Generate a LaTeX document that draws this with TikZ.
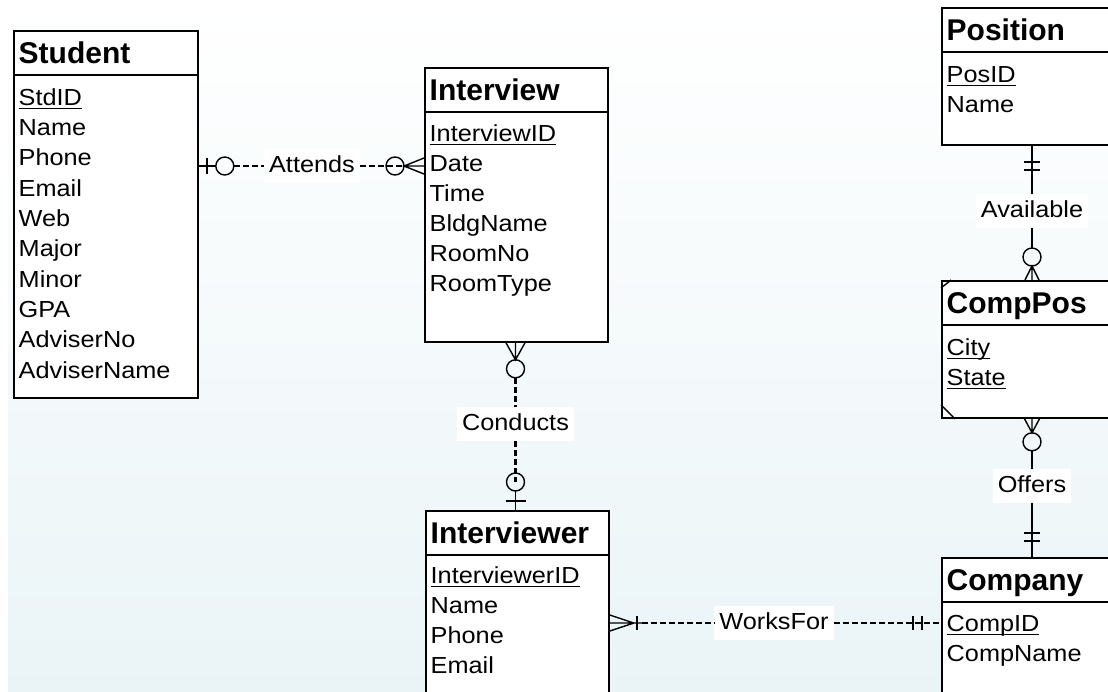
\documentclass[tikz,border=0pt]{standalone}
\usepackage{fontspec}
\setmainfont{Liberation Sans}
\newfontfamily\attrfont[FakeStretch=1.09]{Liberation Sans}
\usetikzlibrary{calc}
\definecolor{bgbottom}{RGB}{234,244,247}
% underlined key attribute
\newcommand{\keyname}[1]{\setbox0\hbox{#1}\rlap{\vrule height -2.6pt depth 4.1pt width \wd0}\box0}
\begin{document}
\begin{tikzpicture}[x=1pt,y=-1pt,
  entity/.style={draw=black, line width=1.8pt, fill=white, rectangle, inner sep=0pt, anchor=north west},
  title/.style={anchor=base west, inner sep=0pt, font=\fontsize{30}{36}\selectfont\bfseries},
  attr/.style={anchor=base west, inner sep=0pt, font=\attrfont\fontsize{23.2}{29}\selectfont},
  rel/.style={fill=white, inner xsep=5pt, inner ysep=6pt, text height=17pt, text depth=5pt, font=\attrfont\fontsize{23.2}{29}\selectfont},
  link/.style={line width=2.2pt, dash pattern=on 6pt off 3pt},
  solidlink/.style={line width=1.3pt},
  symbol/.style={line width=1.4pt},
  divider/.style={line width=1.4pt}]

\useasboundingbox (0,0) rectangle (1108,691);
\clip (0,0) rectangle (1108,691);
\fill[white] (0,0) rectangle (1108,691);
\shade[top color=white, bottom color=bgbottom] (8,0) rectangle (1108,691);

% ---------- entities ----------
\node[entity, minimum width=184pt, minimum height=367pt] (student) at (13,30) {};
\node[entity, minimum width=183pt, minimum height=274pt] (interview) at (424,67) {};
\node[entity, minimum width=183pt, minimum height=300pt] (interviewer) at (425,510) {};
\node[entity, minimum width=300pt, minimum height=137pt] (position) at (941,7) {};
\node[entity, minimum width=300pt, minimum height=137pt] (comppos) at (941,280) {};
\node[entity, minimum width=300pt, minimum height=300pt] (company) at (941,557) {};

\foreach \e in {student,interview,interviewer,position,comppos,company}
  \draw[divider] ($(\e.north west)+(0,45)$) -- ($(\e.north east)+(0,45)$);

% associative entity corner marks
\draw[divider] ($(comppos.north west)+(0,8)$) -- ($(comppos.north west)+(10,0)$);
\draw[divider] ($(comppos.south west)+(0,-14)$) -- ($(comppos.south west)+(14,0)$);

% ---------- titles ----------
\node[title] (student-t) at (18.5,63.2) {Student};
\node[title] (interview-t) at (429.5,100.2) {Interview};
\node[title] (interviewer-t) at (430.5,543.2) {Interviewer};
\node[title] (position-t) at (946.5,40.2) {Position};
\node[title] (comppos-t) at (946.5,313.2) {CompPos};
\node[title] (company-t) at (946.5,590.2) {Company};

% ---------- attributes ----------
\node[attr] (student-a0) at (18.5,105.3) {\keyname{StdID}};
\foreach \t [count=\i] in {Name,Phone,Email,Web,Major,Minor,GPA,AdviserNo,AdviserName}
  \node[attr] (student-a\i) at (18.5,{105.3+30.3*\i}) {\t};

\node[attr] (interview-a0) at (429.5,141.3) {\keyname{InterviewID}};
\foreach \t [count=\i] in {Date,Time,BldgName,RoomNo,RoomType}
  \node[attr] (interview-a\i) at (429.5,{141.3+30*\i}) {\t};

\node[attr] (interviewer-a0) at (430.5,583.3) {\keyname{InterviewerID}};
\foreach \t [count=\i] in {Name,Phone,Email}
  \node[attr] (interviewer-a\i) at (430.5,{583.3+30*\i}) {\t};

\node[attr] (position-a0) at (946.5,82.3) {\keyname{PosID}};
\node[attr] (position-a1) at (946.5,112.3) {Name};

\node[attr] (comppos-a0) at (946.5,355.3) {\keyname{City}};
\node[attr] (comppos-a1) at (946.5,385.3) {\keyname{State}};

\node[attr] (company-a0) at (946.5,631.3) {\keyname{CompID}};
\node[attr] (company-a1) at (946.5,661.3) {CompName};

% ---------- relationship labels ----------
\node[rel] (attends) at (312,166) {Attends};
\node[rel] (conducts) at (515.5,424) {Conducts};
\node[rel] (worksfor) at (774,623) {WorksFor};
\node[rel] (available) at (1032,211) {Available};
\node[rel] (offers) at (1032,486) {Offers};

% ---------- Attends ----------
\coordinate (att-s) at (student.east |- attends);
\coordinate (att-i) at (interview.west |- attends);
\draw[symbol] (att-s) -- ($(att-s)+(17,0)$);
\draw[symbol] ($(att-s)+(8,-8)$) -- ($(att-s)+(8,8)$);
\draw[symbol] ($(att-s)+(26,0)$) circle[radius=9];
\draw[link] ($(att-s)+(35,0)$) -- (attends.west);
\draw[link] (attends.east) -- ($(att-i)+(-20,0)$);
\draw[symbol] ($(att-i)+(-29,0)$) circle[radius=9];
\draw[symbol] ($(att-i)+(0,-8)$) -- ($(att-i)+(-20,0)$) -- ($(att-i)+(0,8)$)
  (att-i) -- ($(att-i)+(-20,0)$);

% ---------- Conducts ----------
\coordinate (con-i) at (interview.south -| conducts);
\coordinate (con-r) at (interviewer.north -| conducts);
\draw[symbol] ($(con-i)+(-9.5,0)$) -- ($(con-i)+(0,17)$) -- ($(con-i)+(9.5,0)$)
  (con-i) -- ($(con-i)+(0,17)$);
\draw[symbol] ($(con-i)+(0,26)$) circle[radius=9];
\draw[link] ($(con-i)+(0,35)$) -- (conducts.north);
\draw[link] (conducts.south) -- ($(con-r)+(0,-28)$);
\draw[symbol] ($(con-r)+(0,-28)$) circle[radius=9];
\draw[symbol] ($(con-r)+(0,-19)$) -- (con-r);
\draw[symbol] ($(con-r)+(-10,-9)$) -- ($(con-r)+(10,-9)$);

% ---------- WorksFor ----------
\coordinate (wf-r) at (interviewer.east |- worksfor);
\coordinate (wf-c) at (company.west |- worksfor);
\draw[symbol] ($(wf-r)+(0,-8)$) -- ($(wf-r)+(24,0)$) -- ($(wf-r)+(0,8)$)
  (wf-r) -- ($(wf-r)+(32,0)$);
\draw[symbol] ($(wf-r)+(27,-7)$) -- ($(wf-r)+(27,7)$);
\draw[link] ($(wf-r)+(32,0)$) -- (worksfor.west);
\draw[link] (worksfor.east) -- (wf-c);
\draw[symbol] ($(wf-c)+(-28,-7)$) -- ($(wf-c)+(-28,7)$);
\draw[symbol] ($(wf-c)+(-19,-7)$) -- ($(wf-c)+(-19,7)$);

% ---------- Available ----------
\coordinate (av-p) at (position.south west -| available);
\coordinate (av-c) at (comppos.north west -| available);
\draw[solidlink] (av-p) -- (available.north);
\draw[symbol] ($(av-p)+(-8,16)$) -- ($(av-p)+(8,16)$);
\draw[symbol] ($(av-p)+(-8,24)$) -- ($(av-p)+(8,24)$);
\draw[solidlink] (available.south) -- ($(av-c)+(0,-32)$);
\draw[symbol] ($(av-c)+(0,-23)$) circle[radius=9];
\draw[symbol] ($(av-c)+(-7,0)$) -- ($(av-c)+(0,-14)$) -- ($(av-c)+(7,0)$)
  (av-c) -- ($(av-c)+(0,-14)$);

% ---------- Offers ----------
\coordinate (of-c) at (comppos.south west -| offers);
\coordinate (of-m) at (company.north west -| offers);
\draw[symbol] ($(of-c)+(-7.5,0)$) -- ($(of-c)+(0,14)$) -- ($(of-c)+(7.5,0)$)
  (of-c) -- ($(of-c)+(0,14)$);
\draw[symbol] ($(of-c)+(0,23)$) circle[radius=9];
\draw[solidlink] ($(of-c)+(0,32)$) -- (offers.north);
\draw[solidlink] (offers.south) -- (of-m);
\draw[symbol] ($(of-m)+(-8,-24)$) -- ($(of-m)+(8,-24)$);
\draw[symbol] ($(of-m)+(-8,-16)$) -- ($(of-m)+(8,-16)$);

\end{tikzpicture}
\end{document}
